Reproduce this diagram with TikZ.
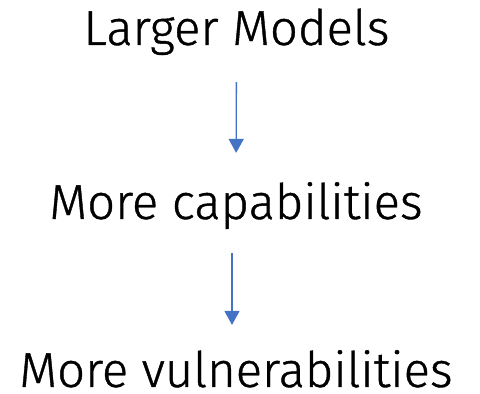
\documentclass[tikz,border=0pt]{standalone}
\usepackage{fontspec}
\setmainfont{Fira Sans}[UprightFont=* Light,FakeBold=0.8]
\usepackage{xcolor}
\usetikzlibrary{arrows.meta,positioning}
\definecolor{arrowblue}{RGB}{68,114,196}

\begin{document}
\begin{tikzpicture}[x=1pt,y=1pt,>={Triangle[length=14pt,width=15pt]},
  step text/.style={inner sep=0pt,anchor=base,font=\fontsize{49}{59}\selectfont},
  down arrow/.style={->,arrowblue,line width=1.3pt}]
\useasboundingbox (0,0) rectangle (480,394);
\node[step text] (larger) at (236.5,349) {Larger Models};
\node[step text] (capab) at (236,175) {More capabilities};
\node[step text] (vuln) at (236,7) {More vulnerabilities};
% arrows between the three lines
\draw[down arrow,shorten <=27pt,shorten >=29pt] (larger.south) -- (capab.north);
\draw[down arrow,shorten <=24pt,shorten >=25pt] ([xshift=-4pt]capab.south) -- ([xshift=-4pt]vuln.north);
\end{tikzpicture}
\end{document}
